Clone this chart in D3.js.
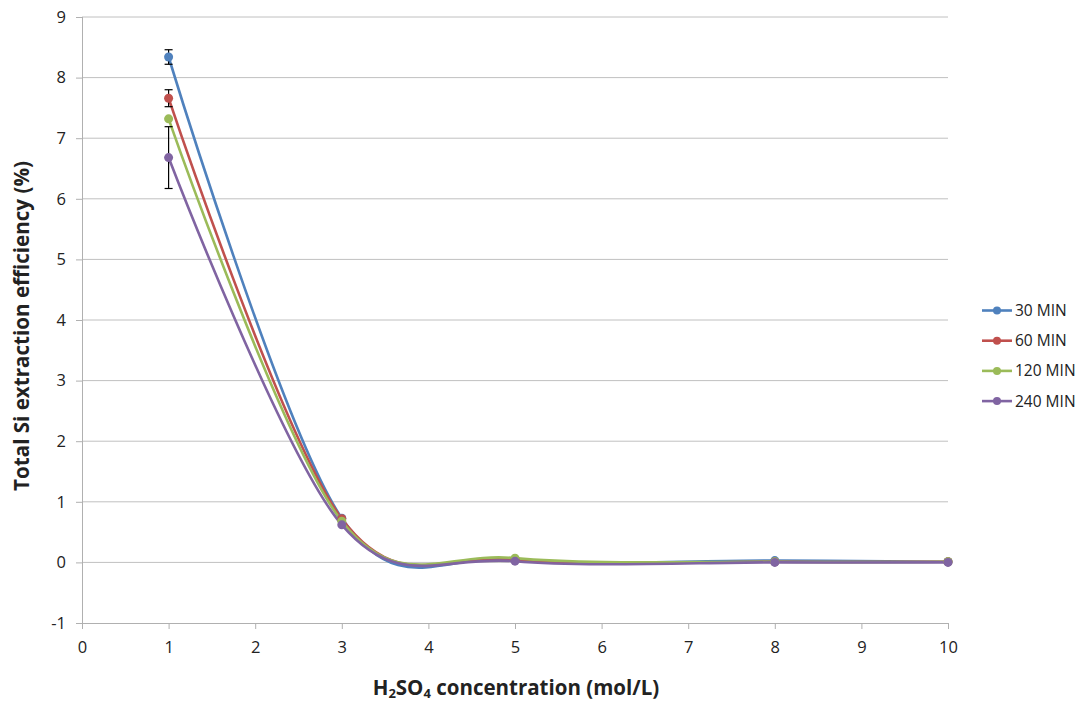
<!DOCTYPE html>
<html>
<head>
<meta charset="utf-8">
<script src="https://cdn.jsdelivr.net/npm/d3@7"></script>
<style>
  body { margin: 0; background: #fff; }
  text { font-family: "Open Sans", Lato, sans-serif; }
</style>
</head>
<body>
<script>
var concentrations = [1, 3, 5, 8, 10];
var seriesNames = ["30 MIN", "60 MIN", "120 MIN", "240 MIN"];
var seriesColors = ["#4f81bd", "#c0504d", "#9bbb59", "#8064a2"];
var values30 = [8.34, 0.73, 0.05, 0.03, 0.01];
var values60 = [7.66, 0.72, 0.05, 0.01, 0.01];
var values120 = [7.32, 0.68, 0.07, 0.01, 0.01];
var values240 = [6.68, 0.62, 0.02, 0.00, 0.00];
var errors30 = [0.12, 0, 0, 0, 0];
var errors60 = [0.14, 0, 0, 0, 0];
var errors120 = [0, 0, 0, 0, 0];
var errors240 = [0.51, 0, 0, 0, 0];
var xTicks = [0, 1, 2, 3, 4, 5, 6, 7, 8, 9, 10];
var yTicks = [-1, 0, 1, 2, 3, 4, 5, 6, 7, 8, 9];

var allValues = [values30, values60, values120, values240];
var allErrors = [errors30, errors60, errors120, errors240];

var width = 1077, height = 701;
var plot = { left: 82, right: 948, top: 17, bottom: 623 };

var svg = d3.select('body').append('svg')
  .attr('width', width)
  .attr('height', height);

var x = d3.scaleLinear().domain([0, 10]).range([plot.left, plot.right]);
var y = d3.scaleLinear().domain([-1, 9]).range([plot.bottom, plot.top]);

// gridlines
svg.append('g').selectAll('line').data(yTicks.filter(function(d) { return d > -1; }))
  .enter().append('line')
  .attr('x1', plot.left).attr('x2', plot.right)
  .attr('y1', function(d) { return y(d); }).attr('y2', function(d) { return y(d); })
  .attr('stroke', '#c0c0c0').attr('stroke-width', 1);

// axes
var plain = function(d) { return String(d); };
var yAxis = svg.append('g')
  .attr('transform', 'translate(' + plot.left + ',0)')
  .call(d3.axisLeft(y).tickValues(yTicks).tickSize(6).tickPadding(10).tickFormat(plain));
var xAxis = svg.append('g')
  .attr('transform', 'translate(0,' + plot.bottom + ')')
  .call(d3.axisBottom(x).tickValues(xTicks).tickSize(6).tickPadding(12).tickFormat(plain));

[xAxis, yAxis].forEach(function(a) {
  a.select('.domain').attr('stroke', '#b0b0b0');
  a.selectAll('.tick line').attr('stroke', '#b0b0b0');
  a.selectAll('.tick text').attr('font-size', 16.5).attr('fill', '#222')
    .style('font-family', '"Open Sans", Lato, sans-serif');
});
yAxis.select('.domain').attr('d', 'M0.5,' + plot.bottom + 'V' + plot.top);
xAxis.select('.domain').attr('d', 'M' + plot.left + ',0.5H' + plot.right);

// series lines
var line = d3.line()
  .x(function(d, i) { return x(concentrations[i]); })
  .y(function(d) { return y(d); })
  .curve(d3.curveCardinal.tension(0));

allValues.forEach(function(vals, s) {
  svg.append('path')
    .datum(vals)
    .attr('d', line)
    .attr('fill', 'none')
    .attr('stroke', seriesColors[s])
    .attr('stroke-width', 2.6);
});

// error bars
allValues.forEach(function(vals, s) {
  var errs = allErrors[s];
  var g = svg.append('g');
  vals.forEach(function(v, i) {
    if (!errs[i]) return;
    var cx = x(concentrations[i]);
    g.append('line').attr('x1', cx).attr('x2', cx)
      .attr('y1', y(v - errs[i])).attr('y2', y(v + errs[i]))
      .attr('stroke', '#000').attr('stroke-width', 1.2);
    [v - errs[i], v + errs[i]].forEach(function(e) {
      g.append('line').attr('x1', cx - 4).attr('x2', cx + 4)
        .attr('y1', y(e)).attr('y2', y(e))
        .attr('stroke', '#000').attr('stroke-width', 1.2);
    });
  });
});

// markers
allValues.forEach(function(vals, s) {
  svg.append('g').selectAll('circle').data(vals).enter().append('circle')
    .attr('cx', function(d, i) { return x(concentrations[i]); })
    .attr('cy', function(d) { return y(d); })
    .attr('r', 4.5)
    .attr('fill', seriesColors[s]);
});

// legend
var legend = svg.append('g').attr('transform', 'translate(982,310.5)');
seriesNames.forEach(function(name, i) {
  var row = legend.append('g').attr('transform', 'translate(0,' + (i * 30.2) + ')');
  row.append('line').attr('x1', 0).attr('x2', 30).attr('y1', 0).attr('y2', 0)
    .attr('stroke', seriesColors[i]).attr('stroke-width', 2.6);
  row.append('circle').attr('cx', 15).attr('cy', 0).attr('r', 4).attr('fill', seriesColors[i]);
  row.append('text').attr('x', 33).attr('y', 0).attr('dy', '0.36em')
    .attr('font-size', 15.5).attr('fill', '#222').text(name);
});

// fit a title to the width it has in the reference
function fit(sel, target) {
  var w = sel.node().getComputedTextLength();
  var fs = +sel.attr('font-size');
  sel.attr('font-size', fs * target / w);
}

// axis titles
var yt = svg.append('text')
  .attr('transform', 'translate(29,' + ((plot.top + plot.bottom) / 2 + 6) + ') rotate(-90)')
  .attr('text-anchor', 'middle')
  .attr('font-size', 18).attr('font-weight', 'bold').attr('fill', '#222')
  .text('Total Si extraction efficiency (%)');
fit(yt, 330);

var xt = svg.append('text')
  .attr('x', 516).attr('y', 695)
  .attr('text-anchor', 'middle')
  .attr('font-size', 20.5).attr('font-weight', 'bold').attr('fill', '#222');
xt.append('tspan').text('H');
xt.append('tspan').attr('font-size', 13).attr('dy', 3).text('2');
xt.append('tspan').attr('dy', -3).text('SO');
xt.append('tspan').attr('font-size', 13).attr('dy', 3).text('4');
xt.append('tspan').attr('dy', -3).text(' concentration (mol/L)');
</script>
</body>
</html>
